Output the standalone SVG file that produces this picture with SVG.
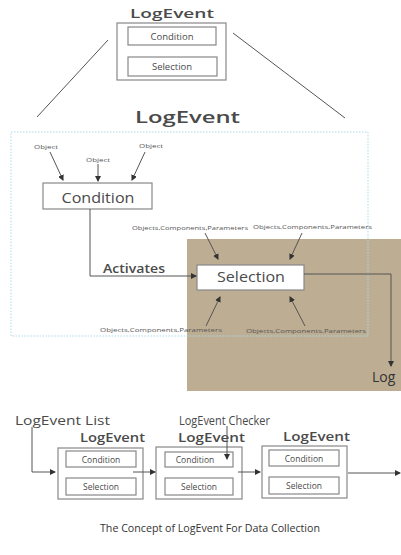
<svg xmlns="http://www.w3.org/2000/svg" width="401" height="555" viewBox="0 0 401 555">
<defs>
<marker id="ah" markerWidth="6" markerHeight="6" refX="5" refY="3" orient="auto" markerUnits="userSpaceOnUse">
<path d="M0,0 L6,3 L0,6 z" fill="#333"/>
</marker>
<style>
.box{fill:#fff;stroke:#888;stroke-width:1.2}
.ln{fill:none;stroke:#555;stroke-width:1}
.t{font-family:"Open Sans","DejaVu Sans",sans-serif;fill:#4a4a4a}
.h{font-family:"Open Sans","DejaVu Sans",sans-serif;fill:#4a4a4a;font-weight:600}
.s{font-family:"Open Sans","DejaVu Sans",sans-serif;fill:#555;font-size:6px}
.c{font-family:"Open Sans","DejaVu Sans",sans-serif;fill:#333}
</style>
</defs>
<rect width="401" height="555" fill="#fff"/>

<g id="bg">
<rect x="187" y="239" width="214" height="152" fill="#bdad93"/>
<rect x="11" y="132" width="357" height="204" fill="none" stroke="#a9d9ea" stroke-width="1" stroke-dasharray="1.5,1.5"/>
</g>

<g id="top-logevent">
<text class="h" x="172" y="18" font-size="12.5" text-anchor="middle" textLength="84" lengthAdjust="spacingAndGlyphs">LogEvent</text>
<rect class="box" x="117" y="23" width="109" height="57"/>
<rect class="box" x="128" y="27" width="88" height="18"/>
<text class="t" x="172" y="40" font-size="9.5" text-anchor="middle">Condition</text>
<rect class="box" x="128" y="57" width="89" height="19"/>
<text class="t" x="172" y="70" font-size="9.5" text-anchor="middle">Selection</text>
</g>

<g id="title">
<text class="h" x="135" y="123" font-size="16" textLength="105" lengthAdjust="spacingAndGlyphs" fill="#333">LogEvent</text>
</g>

<g id="condition">
<rect class="box" x="43" y="183" width="109" height="26"/>
<text class="t" x="98" y="203" font-size="14.5" text-anchor="middle" textLength="73" lengthAdjust="spacingAndGlyphs">Condition</text>
</g>

<g id="selection">
<rect class="box" x="197" y="265" width="107" height="25"/>
<text class="t" x="251" y="282" font-size="14.5" text-anchor="middle" textLength="68" lengthAdjust="spacingAndGlyphs">Selection</text>
</g>

<g id="labels">
<text class="s" x="34" y="149" textLength="24" lengthAdjust="spacingAndGlyphs">Object</text>
<text class="s" x="86" y="162" textLength="24" lengthAdjust="spacingAndGlyphs">Object</text>
<text class="s" x="139" y="148" textLength="24" lengthAdjust="spacingAndGlyphs">Object</text>
<text class="s" x="132" y="230" textLength="116" lengthAdjust="spacingAndGlyphs">Objects,Components,Parameters</text>
<text class="s" x="253" y="229" textLength="119" lengthAdjust="spacingAndGlyphs">Objects,Components,Parameters</text>
<text class="s" x="100" y="332" textLength="122" lengthAdjust="spacingAndGlyphs">Objects,Components,Parameters</text>
<text class="s" x="246" y="333" textLength="120" lengthAdjust="spacingAndGlyphs">Objects,Components,Parameters</text>
<text class="h" x="103" y="273" font-size="13" textLength="62" lengthAdjust="spacingAndGlyphs">Activates</text>
<text class="c" x="372" y="382" font-size="14">Log</text>
</g>

<g id="bottom-list">
<text class="t" x="15" y="425" font-size="13.5" textLength="95" lengthAdjust="spacingAndGlyphs">LogEvent List</text>
<text class="t" x="179" y="425" font-size="13.5" textLength="91" lengthAdjust="spacingAndGlyphs">LogEvent Checker</text>
</g>

<g id="logevent1">
<text class="h" x="80" y="442" font-size="12" textLength="65" lengthAdjust="spacingAndGlyphs">LogEvent</text>
<rect class="box" x="58" y="448" width="85" height="51"/>
<rect class="box" x="66" y="451" width="70" height="16"/>
<text class="t" x="101" y="462.5" font-size="8.5" text-anchor="middle">Condition</text>
<rect class="box" x="66" y="478" width="70" height="17"/>
<text class="t" x="101" y="490" font-size="8.5" text-anchor="middle">Selection</text>
</g>

<g id="logevent2">
<text class="h" x="178" y="442" font-size="12" textLength="67" lengthAdjust="spacingAndGlyphs">LogEvent</text>
<rect class="box" x="156" y="447" width="86" height="52"/>
<rect class="box" x="165" y="452" width="68" height="15"/>
<text class="t" x="195" y="463" font-size="8.5" text-anchor="middle">Condition</text>
<rect class="box" x="165" y="478" width="68" height="17"/>
<text class="t" x="199" y="490" font-size="8.5" text-anchor="middle">Selection</text>
</g>

<g id="logevent3">
<text class="h" x="283" y="441" font-size="12" textLength="67" lengthAdjust="spacingAndGlyphs">LogEvent</text>
<rect class="box" x="262" y="446" width="85" height="52"/>
<rect class="box" x="269" y="450" width="70" height="16"/>
<text class="t" x="304" y="461.5" font-size="8.5" text-anchor="middle">Condition</text>
<rect class="box" x="269" y="477" width="70" height="17"/>
<text class="t" x="304" y="489" font-size="8.5" text-anchor="middle">Selection</text>
</g>

<g id="caption">
<text class="c" x="100" y="532" font-size="11" textLength="220" lengthAdjust="spacingAndGlyphs">The Concept of LogEvent For Data Collection</text>
</g>

<g id="connectors">
<line class="ln" x1="108" y1="40" x2="37" y2="117"/>
<line class="ln" x1="233" y1="33" x2="345" y2="118"/>
<line class="ln" x1="50" y1="152" x2="63" y2="180" marker-end="url(#ah)"/>
<line class="ln" x1="98" y1="164" x2="98" y2="181" marker-end="url(#ah)"/>
<line class="ln" x1="145" y1="152" x2="132" y2="180" marker-end="url(#ah)"/>
<polyline class="ln" points="90,209 90,276 196,276" marker-end="url(#ah)"/>
<line class="ln" x1="205" y1="233" x2="218" y2="259" marker-end="url(#ah)"/>
<line class="ln" x1="302" y1="233" x2="290" y2="259" marker-end="url(#ah)"/>
<line class="ln" x1="206" y1="326" x2="220" y2="297" marker-end="url(#ah)"/>
<line class="ln" x1="305" y1="326" x2="290" y2="297" marker-end="url(#ah)"/>
<polyline class="ln" points="304,274 391,274 391,366" marker-end="url(#ah)"/>
<polyline class="ln" points="32,427 32,472 55,472" marker-end="url(#ah)"/>
<line class="ln" x1="133" y1="472" x2="155" y2="472" marker-end="url(#ah)"/>
<line class="ln" x1="227" y1="426" x2="227" y2="459" marker-end="url(#ah)"/>
<line class="ln" x1="238" y1="472" x2="260" y2="472" marker-end="url(#ah)"/>
<line class="ln" x1="348" y1="473" x2="400" y2="473" marker-end="url(#ah)"/>
</g>
</svg>
